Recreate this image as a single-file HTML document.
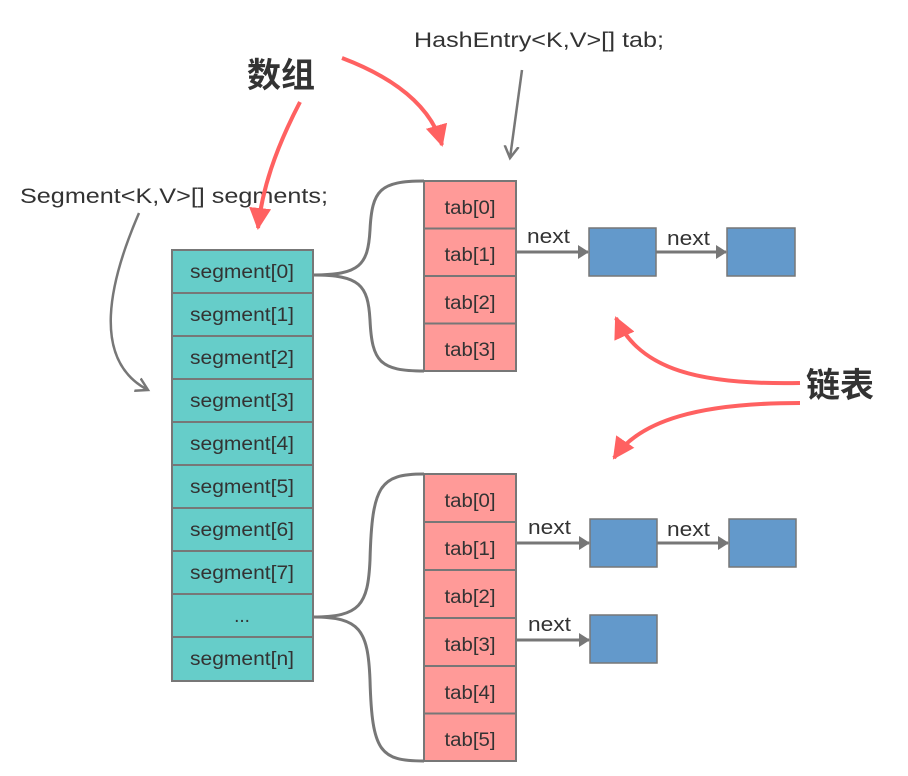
<!DOCTYPE html>
<html><head><meta charset="utf-8"><style>
html,body{margin:0;padding:0;background:#fff;}
svg{display:block;}
text{font-family:"Liberation Sans","Noto Sans CJK SC",sans-serif;fill:#333;}
</style></head><body>
<svg width="908" height="776" viewBox="0 0 908 776" xmlns="http://www.w3.org/2000/svg">
<defs>
<marker id="ga" markerWidth="12" markerHeight="14" refX="10" refY="7" orient="auto" markerUnits="userSpaceOnUse"><path d="M0,0 L11,7 L0,14 Z" fill="#777"/></marker>
<marker id="gt" markerWidth="16" markerHeight="16" refX="12" refY="8" orient="auto" markerUnits="userSpaceOnUse"><path d="M0,1 L12,8 L0,15" fill="none" stroke="#777" stroke-width="2.5"/></marker>
<marker id="ra" markerWidth="24" markerHeight="22" refX="20" refY="11" orient="auto" markerUnits="userSpaceOnUse"><path d="M0,0 L22,11 L0,22 Z" fill="#ff6161"/></marker>
</defs>

<g stroke="#777" stroke-width="2" fill="#66cdc9">
<rect x="172" y="250" width="141" height="43"/>
<rect x="172" y="293" width="141" height="43"/>
<rect x="172" y="336" width="141" height="43"/>
<rect x="172" y="379" width="141" height="43"/>
<rect x="172" y="422" width="141" height="43"/>
<rect x="172" y="465" width="141" height="43"/>
<rect x="172" y="508" width="141" height="43"/>
<rect x="172" y="551" width="141" height="43"/>
<rect x="172" y="594" width="141" height="43"/>
<rect x="172" y="637" width="141" height="44"/>
</g>
<g font-size="19" text-anchor="middle">
<text x="242" y="278" textLength="104" lengthAdjust="spacingAndGlyphs">segment[0]</text>
<text x="242" y="321" textLength="104" lengthAdjust="spacingAndGlyphs">segment[1]</text>
<text x="242" y="364" textLength="104" lengthAdjust="spacingAndGlyphs">segment[2]</text>
<text x="242" y="407" textLength="104" lengthAdjust="spacingAndGlyphs">segment[3]</text>
<text x="242" y="450" textLength="104" lengthAdjust="spacingAndGlyphs">segment[4]</text>
<text x="242" y="493" textLength="104" lengthAdjust="spacingAndGlyphs">segment[5]</text>
<text x="242" y="536" textLength="104" lengthAdjust="spacingAndGlyphs">segment[6]</text>
<text x="242" y="579" textLength="104" lengthAdjust="spacingAndGlyphs">segment[7]</text>
<text x="242" y="622">...</text>
<text x="242" y="665" textLength="104" lengthAdjust="spacingAndGlyphs">segment[n]</text>
</g>

<g stroke="#777" stroke-width="2" fill="#ff9a98">
<rect x="424" y="181" width="92" height="47.5"/>
<rect x="424" y="228.5" width="92" height="47.5"/>
<rect x="424" y="276" width="92" height="47.5"/>
<rect x="424" y="323.5" width="92" height="47.5"/>
<rect x="424" y="474" width="92" height="48"/>
<rect x="424" y="522" width="92" height="48"/>
<rect x="424" y="570" width="92" height="48"/>
<rect x="424" y="618" width="92" height="48"/>
<rect x="424" y="666" width="92" height="47.5"/>
<rect x="424" y="713.5" width="92" height="47.5"/>
</g>
<g font-size="19" text-anchor="middle">
<text x="470" y="214" textLength="51" lengthAdjust="spacingAndGlyphs">tab[0]</text>
<text x="470" y="261" textLength="51" lengthAdjust="spacingAndGlyphs">tab[1]</text>
<text x="470" y="309" textLength="51" lengthAdjust="spacingAndGlyphs">tab[2]</text>
<text x="470" y="356" textLength="51" lengthAdjust="spacingAndGlyphs">tab[3]</text>
<text x="470" y="507" textLength="51" lengthAdjust="spacingAndGlyphs">tab[0]</text>
<text x="470" y="555" textLength="51" lengthAdjust="spacingAndGlyphs">tab[1]</text>
<text x="470" y="603" textLength="51" lengthAdjust="spacingAndGlyphs">tab[2]</text>
<text x="470" y="651" textLength="51" lengthAdjust="spacingAndGlyphs">tab[3]</text>
<text x="470" y="699" textLength="51" lengthAdjust="spacingAndGlyphs">tab[4]</text>
<text x="470" y="746" textLength="51" lengthAdjust="spacingAndGlyphs">tab[5]</text>
</g>

<g fill="none" stroke="#777" stroke-width="3">
<path d="M313,275 C360,275 368,265 370,230 C372,190 380,181 424,181"/>
<path d="M313,275 C360,275 368,285 370,320 C372,362 380,371 424,371"/>
<path d="M313,617 C360,617 368,605 370,560 C372,485 380,474 424,474"/>
<path d="M313,617 C360,617 368,630 370,680 C372,752 380,761 424,761"/>
</g>

<g stroke="#777" stroke-width="1.5" fill="#6399cb">
<rect x="589" y="228" width="67" height="48"/>
<rect x="727" y="228" width="68" height="48"/>
<rect x="590" y="519" width="67" height="48"/>
<rect x="729" y="519" width="67" height="48"/>
<rect x="590" y="615" width="67" height="48"/>
</g>
<g stroke="#777" stroke-width="3" fill="none">
<line x1="516" y1="252" x2="588" y2="252" marker-end="url(#ga)"/>
<line x1="656" y1="252" x2="726" y2="252" marker-end="url(#ga)"/>
<line x1="516" y1="543" x2="589" y2="543" marker-end="url(#ga)"/>
<line x1="657" y1="543" x2="728" y2="543" marker-end="url(#ga)"/>
<line x1="516" y1="640" x2="589" y2="640" marker-end="url(#ga)"/>
</g>
<g font-size="20">
<text x="527" y="243" textLength="43" lengthAdjust="spacingAndGlyphs">next</text>
<text x="667" y="245" textLength="43" lengthAdjust="spacingAndGlyphs">next</text>
<text x="528" y="534" textLength="43" lengthAdjust="spacingAndGlyphs">next</text>
<text x="667" y="536" textLength="43" lengthAdjust="spacingAndGlyphs">next</text>
<text x="528" y="631" textLength="43" lengthAdjust="spacingAndGlyphs">next</text>
</g>

<text x="414" y="47" font-size="21" textLength="250" lengthAdjust="spacingAndGlyphs">HashEntry&lt;K,V&gt;[] tab;</text>
<text x="20" y="203" font-size="21" textLength="308" lengthAdjust="spacingAndGlyphs">Segment&lt;K,V&gt;[] segments;</text>
<text x="247" y="87" font-size="34" font-weight="bold">数组</text>
<text x="806" y="397" font-size="34" font-weight="bold">链表</text>

<g fill="none" stroke="#777" stroke-width="2.5">
<path d="M522,70 L510,158" marker-end="url(#gt)"/>
<path d="M139,213 C110,280 90,360 148,390" marker-end="url(#gt)"/>
</g>
<g fill="none" stroke="#ff6161" stroke-width="4">
<path d="M342,58 C400,80 432,110 442,145" marker-end="url(#ra)"/>
<path d="M300,102 C275,150 262,190 258,228" marker-end="url(#ra)"/>
<path d="M800,383 C700,385 640,370 616,318" marker-end="url(#ra)"/>
<path d="M800,403 C700,403 640,420 614,458" marker-end="url(#ra)"/>
</g>
</svg>
</body></html>
